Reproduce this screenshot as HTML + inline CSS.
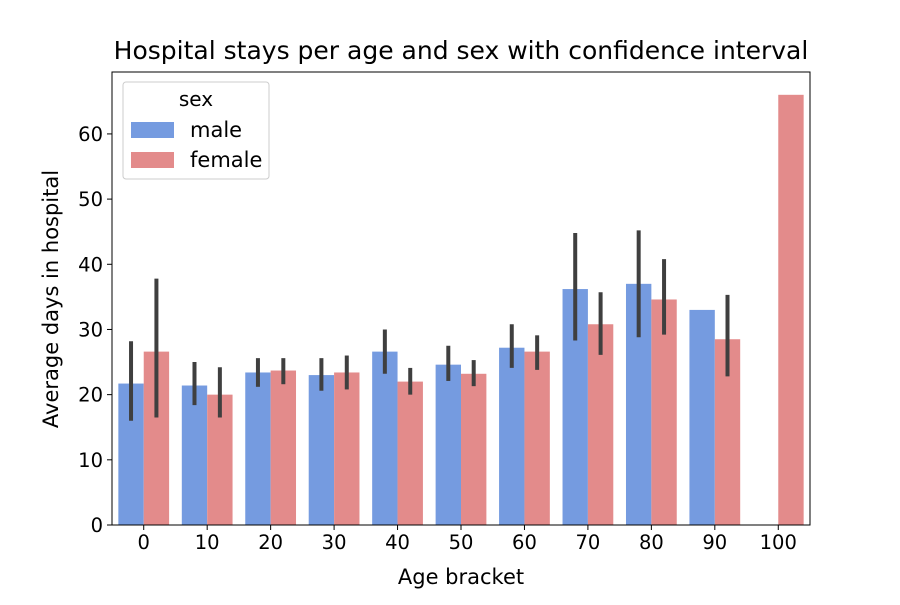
<!DOCTYPE html>
<html><head><meta charset="utf-8"><style>body{margin:0;background:#fff}svg{font-family:"DejaVu Sans","Liberation Sans",sans-serif}</style></head>
<body>
<svg id="chart" width="900" height="600" xmlns="http://www.w3.org/2000/svg">
<rect width="900" height="600" fill="#fff"/>
<text x="461" y="59" font-size="25" text-anchor="middle">Hospital stays per age and sex with confidence interval</text>
<g id="plot"></g>
<text x="461" y="584" font-size="21" text-anchor="middle">Age bracket</text>
<text transform="translate(58,299) rotate(-90)" font-size="21" text-anchor="middle">Average days in hospital</text>
<g>
<rect x="123" y="82" width="146" height="97" rx="3" fill="#fff" fill-opacity="0.8" stroke="#ccc"/>
<text x="196" y="106" font-size="20" text-anchor="middle">sex</text>
<rect x="131" y="122" width="43" height="16" fill="#759be0"/>
<text x="190" y="137" font-size="21">male</text>
<rect x="131" y="152" width="43" height="16" fill="#e38b8b"/>
<text x="190" y="167" font-size="21">female</text>
</g>
</svg>
<script>
const categories=["0","10","20","30","40","50","60","70","80","90","100"];
const maleValues=[21.7,21.4,23.4,23.0,26.6,24.6,27.2,36.2,37.0,33.0,null];
const femaleValues=[26.6,20.0,23.7,23.4,22.0,23.2,26.6,30.8,34.6,28.5,66.0];
const maleLow=[16.0,18.4,21.2,20.6,23.2,22.1,24.1,28.3,28.8,null,null];
const maleHigh=[28.2,25.0,25.6,25.6,30.0,27.5,30.8,44.8,45.2,null,null];
const femaleLow=[16.5,16.5,21.6,20.8,20.0,21.3,23.8,26.1,29.2,22.8,null];
const femaleHigh=[37.8,24.2,25.6,26.0,24.1,25.3,29.1,35.7,40.8,35.3,null];
const yTicks=[0,10,20,30,40,50,60];
const L=112,R=810,T=72,B=525,YMAX=69.5;
const NS="http://www.w3.org/2000/svg";
const g=document.getElementById('plot');
const y=v=>B-(v/YMAX)*(B-T);
const step=(R-L)/categories.length;
const xc=i=>L+step*(i+0.5);
function mk(t,a){const e=document.createElementNS(NS,t);for(const k in a)e.setAttribute(k,a[k]);g.appendChild(e);return e;}
const bw=step*0.4;
categories.forEach((c,i)=>{
 [[maleValues,maleLow,maleHigh,'#759be0',-1,'male'],[femaleValues,femaleLow,femaleHigh,'#e38b8b',0,'female']].forEach(([vals,lo,hi,col,off,nm])=>{
  const v=vals[i]; if(v==null)return;
  const x0=xc(i)+off*bw;
  const r=mk('rect',{x:x0,y:y(v),width:bw,height:B-y(v),fill:col});
  
  
  if(lo[i]!=null){
   const l=mk('line',{x1:x0+bw/2,x2:x0+bw/2,y1:y(lo[i]),y2:y(hi[i]),stroke:'#3f3f3f','stroke-width':4});
   
   
  }
 });
 mk('line',{x1:xc(i),x2:xc(i),y1:B,y2:B+5,stroke:'#000'});
 const t=mk('text',{x:xc(i),y:B+24,'font-size':19.5,'text-anchor':'middle'});t.textContent=c;
 
 
});
yTicks.forEach(v=>{
 mk('line',{x1:L-5,x2:L,y1:y(v),y2:y(v),stroke:'#000'});
 const t=mk('text',{x:L-9,y:y(v)+7,'font-size':19.5,'text-anchor':'end'});t.textContent=v;
 
 
});
const f=mk('rect',{x:L,y:T,width:R-L,height:B-T,fill:'none',stroke:'#000','stroke-width':1});


</script>
</body></html>
